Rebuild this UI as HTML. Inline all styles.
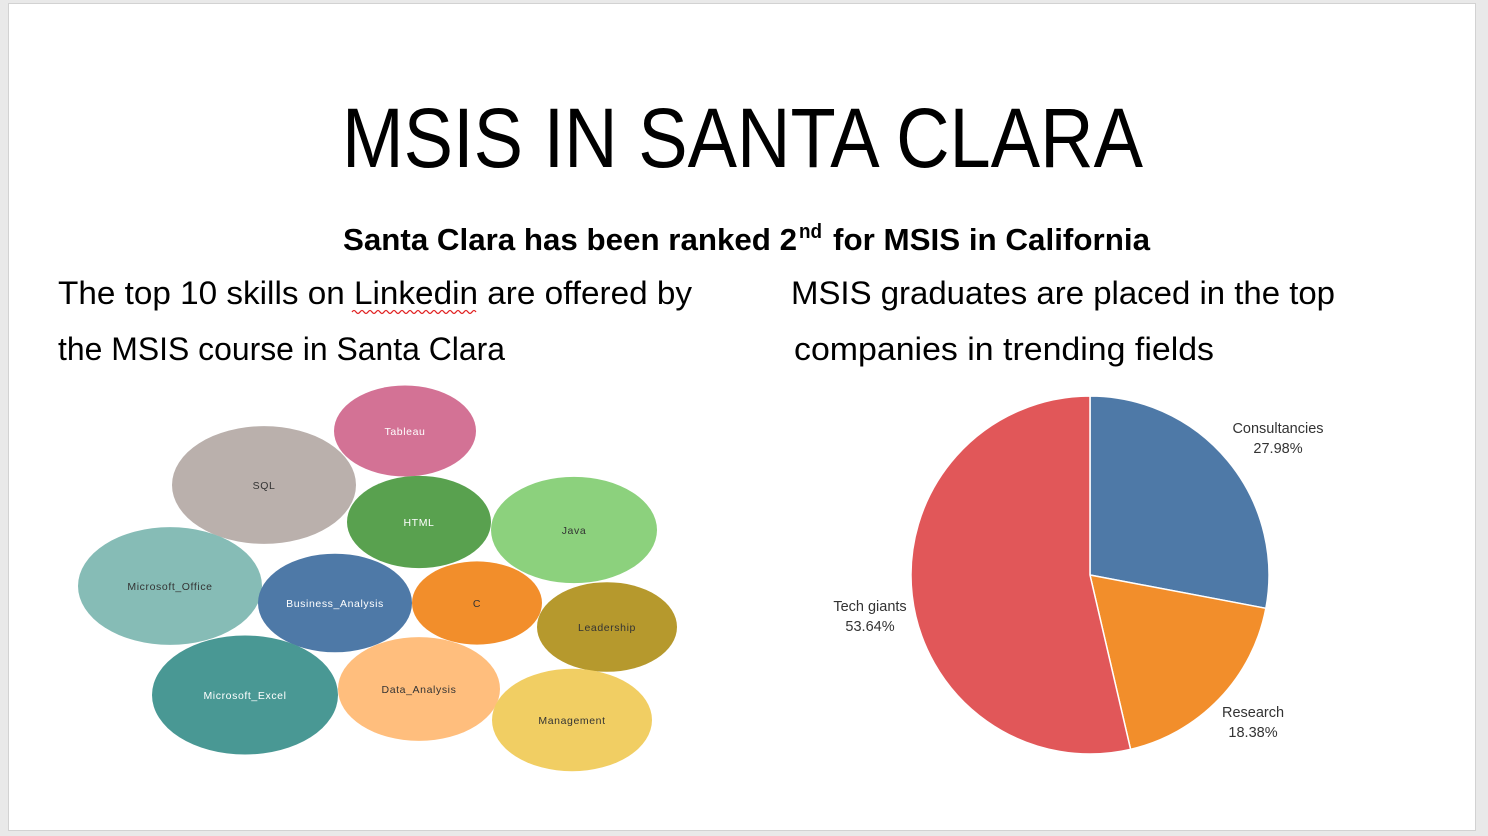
<!DOCTYPE html>
<html><head><meta charset="utf-8"><style>
html,body{margin:0;padding:0;background:#e8e8e8;}
svg{display:block;font-family:"Liberation Sans",sans-serif;}
</style></head><body>
<svg id="s" width="1488" height="836" viewBox="0 0 1488 836">
<rect x="0" y="0" width="1488" height="836" fill="#e9e9e9"/>
<rect x="8.5" y="3.5" width="1467" height="827" fill="#fff" stroke="#d2d2d2"/>
<text x="342" y="167" font-size="84" textLength="801" lengthAdjust="spacingAndGlyphs" fill="#000">MSIS IN SANTA CLARA</text>
<text y="250" font-size="31" font-weight="bold" fill="#000"><tspan x="343" textLength="454" lengthAdjust="spacingAndGlyphs">Santa Clara has been ranked 2</tspan><tspan x="799" y="238" font-size="20" textLength="23" lengthAdjust="spacingAndGlyphs">nd</tspan><tspan x="833" y="250" textLength="317" lengthAdjust="spacingAndGlyphs">for MSIS in California</tspan></text>
<text x="58" y="304" font-size="32" fill="#000" textLength="634" lengthAdjust="spacingAndGlyphs">The top 10 skills on Linkedin are offered by</text>
<path d="M352 312 q2 -3 4 0 t4 0 t4 0 t4 0 t4 0 t4 0 t4 0 t4 0 t4 0 t4 0 t4 0 t4 0 t4 0 t4 0 t4 0 t4 0 t4 0 t4 0 t4 0 t4 0 t4 0 t4 0 t4 0 t4 0 t4 0 t4 0 t4 0 t4 0 t4 0 t4 0 t4 0" fill="none" stroke="#e02020" stroke-width="1.2"/>
<text x="58" y="360" font-size="32" fill="#000" textLength="447" lengthAdjust="spacingAndGlyphs">the MSIS course in Santa Clara</text>
<text x="791" y="304" font-size="32" fill="#000" textLength="544" lengthAdjust="spacingAndGlyphs">MSIS graduates are placed in the top</text>
<text x="794" y="360" font-size="32" fill="#000" textLength="420" lengthAdjust="spacingAndGlyphs">companies in trending fields</text>
<g id="bubbles"></g>
<g id="pie"></g>
</svg>
<script>
const skills = ["Tableau","SQL","HTML","Java","Microsoft_Office","Business_Analysis","C","Leadership","Microsoft_Excel","Data_Analysis","Management"];
const skillSize = [71,92,72,83,92,77,65,70,93,81,80];
const skillColors = ["#d37295","#bab0ac","#59a14f","#8cd17d","#86bcb6","#4e79a7","#f28e2b","#b6992d","#499894","#ffbe7d","#f1ce63"];
const skillTextColors = ["#fff","#333","#fff","#333","#333","#fff","#333","#333","#fff","#333","#333"];
const bubbleCenters = [[405,431],[264,485],[419,522],[574,530],[170,586],[335,603],[477,603],[607,627],[245,695],[419,689],[572,720]];
const ns="http://www.w3.org/2000/svg";
const bg=document.getElementById('bubbles');
skills.forEach((s,i)=>{
  const e=document.createElementNS(ns,'ellipse');
  
  
  e.setAttribute('cx',bubbleCenters[i][0]);e.setAttribute('cy',bubbleCenters[i][1]);
  e.setAttribute('rx',skillSize[i]);e.setAttribute('ry',skillSize[i]*0.64);
  e.setAttribute('fill',skillColors[i]);
  bg.appendChild(e);
  const t=document.createElementNS(ns,'text');
  
  
  t.setAttribute('x',bubbleCenters[i][0]);t.setAttribute('y',bubbleCenters[i][1]+4);
  t.setAttribute('text-anchor','middle');t.setAttribute('font-size','10.5');
  t.setAttribute('letter-spacing','0.6');
  t.setAttribute('fill',skillTextColors[i]);
  t.textContent=s;bg.appendChild(t);
});
const cats=["Consultancies","Research","Tech giants"];
const shares=[27.98,18.38,53.64];
const pieColors=["#4e79a7","#f28e2b","#e15759"];
const labelPos=[[1278,428],[1253,712],[870,606]];
const cx=1090,cy=575,r=179;
const pg=document.getElementById('pie');
const total=shares.reduce((a,b)=>a+b,0);
let a0=0;
shares.forEach((v,i)=>{
  const a1=a0+v/total*2*Math.PI;
  const x0=cx+r*Math.sin(a0),y0=cy-r*Math.cos(a0),x1=cx+r*Math.sin(a1),y1=cy-r*Math.cos(a1);
  const p=document.createElementNS(ns,'path');
  
  
  p.setAttribute('d',`M${cx},${cy}L${x0},${y0}A${r},${r} 0 ${a1-a0>Math.PI?1:0} 1 ${x1},${y1}Z`);
  p.setAttribute('fill',pieColors[i]);p.setAttribute('stroke','#fff');p.setAttribute('stroke-width','1.5');
  pg.appendChild(p);
  const t=document.createElementNS(ns,'text');
  
  
  t.setAttribute('text-anchor','middle');t.setAttribute('font-size','14.5');t.setAttribute('fill','#333');
  const s1=document.createElementNS(ns,'tspan');s1.setAttribute('x',labelPos[i][0]);s1.setAttribute('y',labelPos[i][1]+5);s1.textContent=cats[i];
  const s2=document.createElementNS(ns,'tspan');s2.setAttribute('x',labelPos[i][0]);s2.setAttribute('y',labelPos[i][1]+25);s2.textContent=v.toFixed(2)+'%';
  t.appendChild(s1);t.appendChild(s2);pg.appendChild(t);
  a0=a1;
});
</script>
</body></html>
